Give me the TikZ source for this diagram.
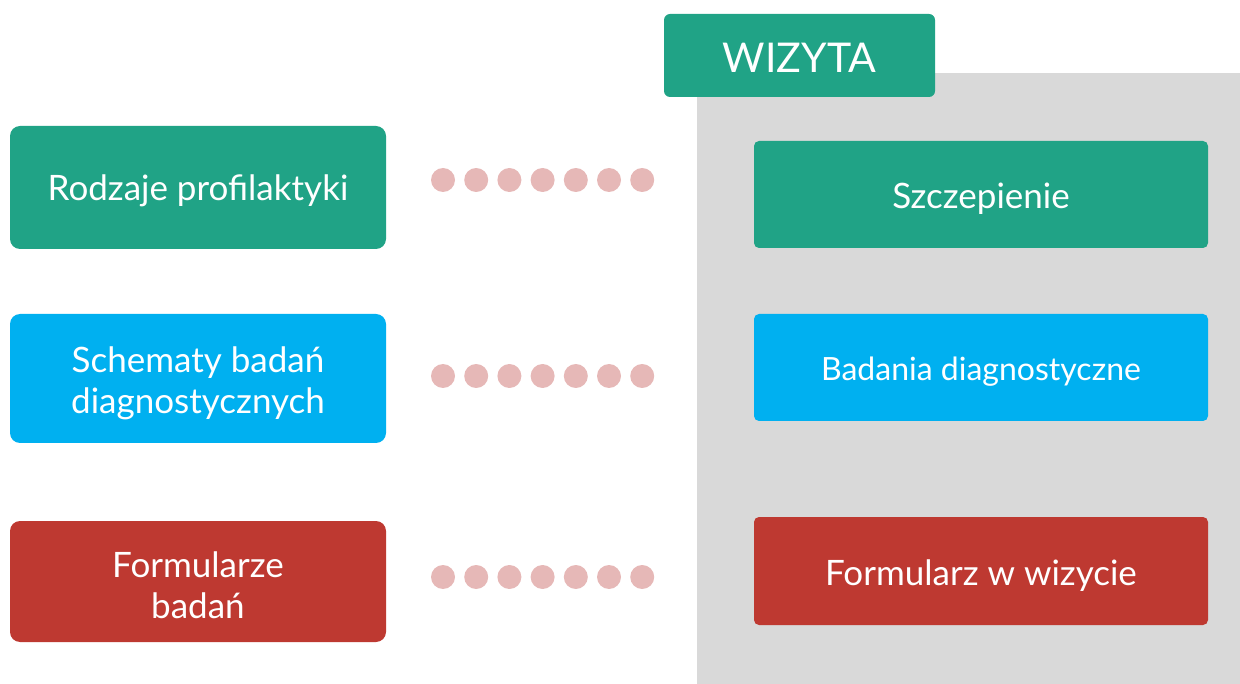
\documentclass[tikz,border=0pt]{standalone}
\usepackage{fontspec}
\setmainfont{Lato}
\definecolor{vgreen}{RGB}{32,163,134}
\definecolor{vblue}{RGB}{0,176,240}
\definecolor{vred}{RGB}{190,57,49}
\definecolor{vgray}{RGB}{217,217,217}
\definecolor{vdot}{RGB}{230,184,183}
\tikzset{
  lbox/.style={rectangle, rounded corners=10pt, inner sep=0pt, minimum width=376pt},
  rbox/.style={rectangle, rounded corners=5pt, inner sep=0pt, minimum width=454pt, minimum height=107pt},
  btext/.style={text=white, align=center, inner sep=0pt, font=\fontsize{35}{41}\selectfont},
  dotc/.style={circle, fill=vdot, minimum size=24pt, inner sep=0pt},
}
\begin{document}
\begin{tikzpicture}[x=1pt,y=-1pt]
\useasboundingbox (0,0) rectangle (1240,684);
\fill[vgray] (697,73) rectangle (1240,684);
\node[rectangle, rounded corners=6pt, fill=vgreen, minimum width=271pt, minimum height=83pt, inner sep=0pt] (wiz) at (799.5,55.5) {};
\node[btext, font=\fontsize{41}{48}\selectfont] (wizt) at ([yshift=-2pt]wiz.center) {WIZYTA};
\node[lbox, fill=vgreen, minimum height=123pt] (l1) at (198,187.5) {};
\node[lbox, fill=vblue, minimum height=129pt] (l2) at (198,378.5) {};
\node[lbox, fill=vred, minimum height=121pt] (l3) at (198,581.5) {};
\node[rbox, fill=vgreen] (r1) at (981,194.5) {};
\node[rbox, fill=vblue] (r2) at (981,367.5) {};
\node[rbox, fill=vred, minimum height=108pt] (r3) at (981,571) {};
\node[btext] (l1t) at ([yshift=-3.5pt]l1.center) {Rodzaje profilaktyki};
\node[btext] (l2t) at ([yshift=-4.5pt]l2.center) {Schematy badań\\diagnostycznych};
\node[btext] (l3t) at ([yshift=-3.5pt]l3.center) {Formularze\\badań};
\node[btext] (r1t) at ([yshift=-4pt]r1.center) {Szczepienie};
\node[btext, font=\fontsize{32}{41}\selectfont] (r2t) at ([yshift=-4pt]r2.center) {Badania diagnostyczne};
\node[btext] (r3t) at ([yshift=-4.5pt]r3.center) {Formularz w wizycie};
\foreach \row/\y in {a/180,b/376,c/577}{
  \foreach \i in {0,...,6}{
    \node[dotc] (d\row\i) at ({443+\i*33.2},\y) {};
  }
}
\end{tikzpicture}
\end{document}
